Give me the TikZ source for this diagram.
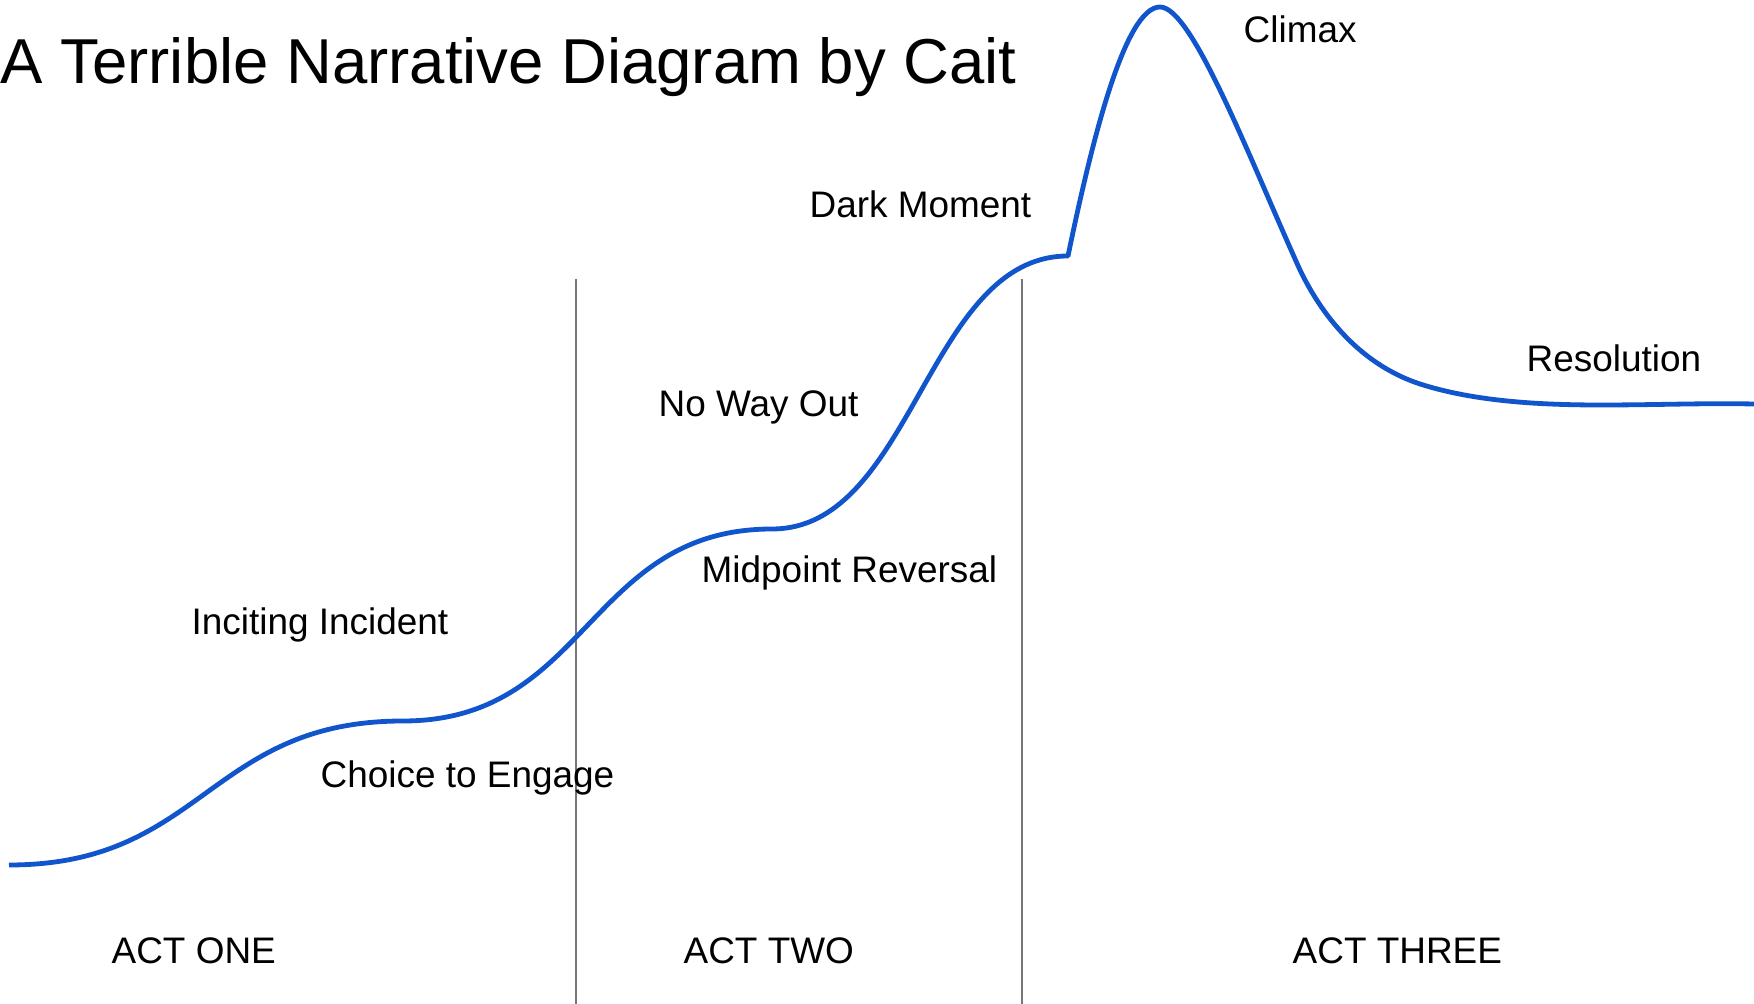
\documentclass[tikz,border=0pt]{standalone}
\usepackage{fontspec}
\setmainfont{Liberation Sans}
\definecolor{plotblue}{HTML}{1155CC}
\definecolor{divgray}{HTML}{777777}
\begin{document}
\begin{tikzpicture}[x=0.01cm,y=-0.01cm,
  lbl/.style={anchor=base west,inner sep=0pt,font=\fontsize{10.5pt}{12pt}\selectfont},
  ttl/.style={anchor=base west,inner sep=0pt,font=\fontsize{18.05pt}{20pt}\selectfont},
  divider/.style={draw=divgray,line width=0.02cm},
  arc/.style={draw=plotblue,line width=0.048cm,line join=round}]
\useasboundingbox (0,0) rectangle (1754,1004);
% title
\node[ttl] (title) at (0,84) {A Terrible Narrative Diagram by Cait};
% dividers
\coordinate (d1t) at (576,279); \coordinate (d1b) at (576,1004);
\coordinate (d2t) at (1022,279); \coordinate (d2b) at (1022,1004);
\draw[divider] (d1t) -- (d1b);
\draw[divider] (d2t) -- (d2b);
% story curve
\draw[arc] (9,865) .. controls (203,865) and (209,721) .. (403,721)
  .. controls (588,721) and (588,529) .. (772,529)
  .. controls (913,529) and (927,256) .. (1068,256)
  .. controls (1092,140) and (1125,7) .. (1160,7)
  .. controls (1192,7) and (1248,155) .. (1300,270)
  .. controls (1325,322) and (1365,366) .. (1420,384)
  .. controls (1470,400) and (1530,405) .. (1600,405)
  .. controls (1660,405) and (1700,403) .. (1754,404);
% labels
\node[lbl] (climax) at (1243,43) {Climax};
\node[lbl] (dark) at (809,218) {Dark Moment};
\node[lbl] (noway) at (658,417) {No Way Out};
\node[lbl] (resol) at (1526,372) {Resolution};
\node[lbl] (midpt) at (701,583) {Midpoint Reversal};
\node[lbl] (incit) at (191,635) {Inciting Incident};
\node[lbl] (choice) at (320,788) {Choice to Engage};
\node[lbl] (act1) at (111,964) {ACT ONE};
\node[lbl] (act2) at (683,964) {ACT TWO};
\node[lbl] (act3) at (1292,964) {ACT THREE};
\end{tikzpicture}
\end{document}
